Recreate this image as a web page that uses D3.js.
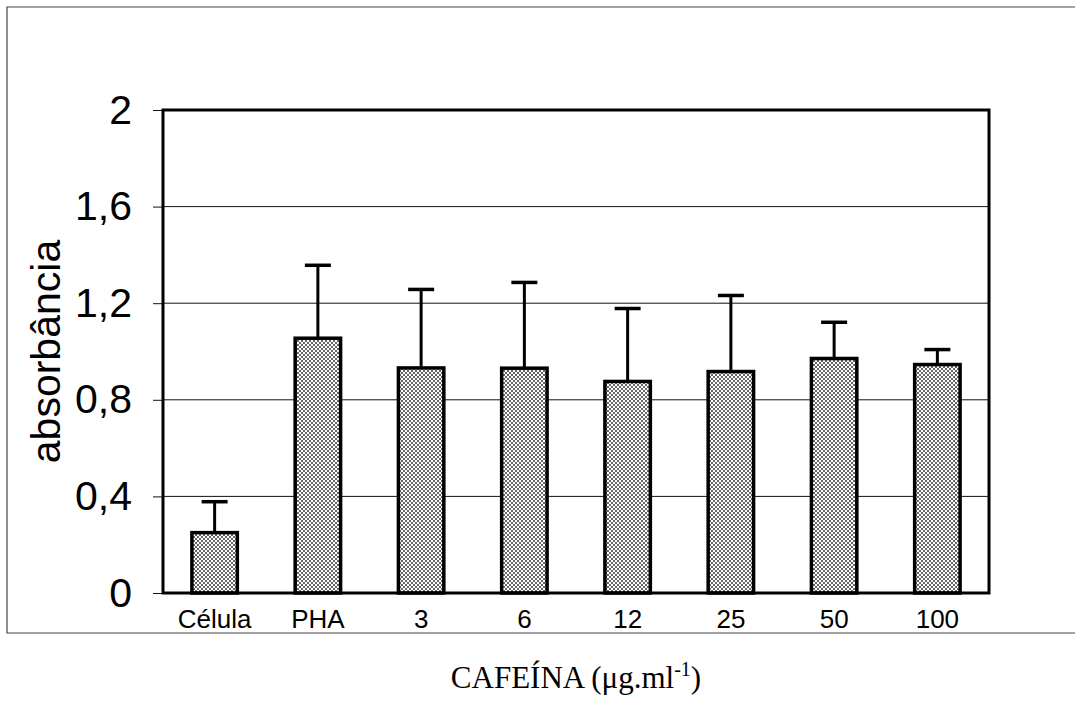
<!DOCTYPE html>
<html>
<head>
<meta charset="utf-8">
<script src="https://cdn.jsdelivr.net/npm/d3@7"></script>
<style>
  body { margin: 0; background: #fff; }
</style>
</head>
<body>
<div id="chart"></div>
<script>
// Data
var categories = ["Célula", "PHA", "3", "6", "12", "25", "50", "100"];
var means = [0.25, 1.055, 0.932, 0.931, 0.876, 0.917, 0.971, 0.946];
var errors = [0.128, 0.302, 0.325, 0.355, 0.302, 0.315, 0.15, 0.062];
var yTicks = [0, 0.4, 0.8, 1.2, 1.6, 2];
var yTickLabels = ["0", "0,4", "0,8", "1,2", "1,6", "2"];

// svg size and plot margins
var svgWidth = 1075;
var svgHeight = 707;
var margin = { top: 110, right: 86, bottom: 114, left: 163 };
var chartW = svgWidth - margin.left - margin.right;
var chartH = svgHeight - margin.top - margin.bottom;

var svg = d3.select("#chart")
  .append("svg")
  .attr("width", svgWidth)
  .attr("height", svgHeight);

// stipple fill for the bars
var pat = svg.append("defs").append("pattern")
  .attr("id", "stipple")
  .attr("patternUnits", "userSpaceOnUse")
  .attr("width", 4)
  .attr("height", 4);
pat.append("rect").attr("width", 4).attr("height", 4).attr("fill", "#fff");
pat.append("rect").attr("x", 0).attr("y", 0).attr("width", 2).attr("height", 2).attr("fill", "#666");
pat.append("rect").attr("x", 2).attr("y", 2).attr("width", 2).attr("height", 2).attr("fill", "#666");

// outer frame of the scanned figure (right side runs off the page)
svg.append("path")
  .attr("d", "M1080,7 H7 V633 H1080")
  .attr("fill", "none")
  .attr("stroke", "#444")
  .attr("stroke-width", 1.2);

var chartGrp = svg.append("g")
  .attr("transform", `translate(${margin.left}, ${margin.top})`);

// scales
var xScale = d3.scaleBand()
  .domain(categories)
  .range([0, chartW])
  .paddingInner(0.56)
  .paddingOuter(0.28);

var yScale = d3.scaleLinear()
  .domain([0, 2])
  .range([chartH, 0]);

// gridlines
chartGrp.selectAll(".grid")
  .data(yTicks.slice(1, -1))
  .enter()
  .append("line")
  .attr("x1", 0)
  .attr("x2", chartW)
  .attr("y1", d => yScale(d))
  .attr("y2", d => yScale(d))
  .attr("stroke", "#111")
  .attr("stroke-width", 1);

// y axis
var leftAxis = d3.axisLeft(yScale)
  .tickValues(yTicks)
  .tickFormat((d, i) => yTickLabels[i])
  .tickSize(10)
  .tickPadding(21);

var yAxisGrp = chartGrp.append("g").call(leftAxis);
yAxisGrp.select(".domain").remove();
yAxisGrp.selectAll("text")
  .attr("font-family", "'Liberation Sans', Arial, sans-serif")
  .attr("font-size", "41px")
  .attr("fill", "#000");
yAxisGrp.selectAll("line").attr("stroke", "#111");

// x axis
var bottomAxis = d3.axisBottom(xScale)
  .tickSize(0)
  .tickPadding(17);

var xAxisGrp = chartGrp.append("g")
  .attr("transform", `translate(0, ${chartH})`)
  .call(bottomAxis);
xAxisGrp.select(".domain").remove();
xAxisGrp.selectAll("text")
  .attr("font-family", "'Liberation Sans', Arial, sans-serif")
  .attr("font-size", "26px")
  .attr("fill", "#000");

// error bars (upper only)
var errGrp = chartGrp.append("g");
categories.forEach(function(c, i) {
  var cx = xScale(c) + xScale.bandwidth() / 2;
  errGrp.append("line")
    .attr("x1", cx).attr("x2", cx)
    .attr("y1", yScale(means[i]))
    .attr("y2", yScale(means[i] + errors[i]))
    .attr("stroke", "#000")
    .attr("stroke-width", 3);
  errGrp.append("line")
    .attr("x1", cx - 13).attr("x2", cx + 13)
    .attr("y1", yScale(means[i] + errors[i]))
    .attr("y2", yScale(means[i] + errors[i]))
    .attr("stroke", "#000")
    .attr("stroke-width", 3.5);
});

// bars
chartGrp.selectAll(".bar")
  .data(categories)
  .enter()
  .append("rect")
  .attr("x", d => xScale(d))
  .attr("y", (d, i) => yScale(means[i]))
  .attr("width", xScale.bandwidth())
  .attr("height", (d, i) => chartH - yScale(means[i]))
  .attr("fill", "url(#stipple)")
  .attr("stroke", "#000")
  .attr("stroke-width", 3.5);

// plot frame
chartGrp.append("rect")
  .attr("width", chartW)
  .attr("height", chartH)
  .attr("fill", "none")
  .attr("stroke", "#000")
  .attr("stroke-width", 3);

// y-axis label
svg.append("text")
  .attr("transform", `translate(60, ${margin.top + chartH / 2}) rotate(-90)`)
  .attr("text-anchor", "middle")
  .attr("font-family", "'Liberation Sans', Arial, sans-serif")
  .attr("font-size", "41px")
  .attr("fill", "#000")
  .text("absorbância");

// x-axis label
var xTitle = svg.append("text")
  .attr("x", margin.left + chartW / 2)
  .attr("y", 688)
  .attr("text-anchor", "middle")
  .attr("font-family", "'Liberation Serif', 'Times New Roman', serif")
  .attr("font-size", "31px")
  .attr("fill", "#000");
xTitle.append("tspan").text("CAFEÍNA (μg.ml");
xTitle.append("tspan").attr("dy", -12).attr("font-size", "20px").text("-1");
xTitle.append("tspan").attr("dy", 12).text(")");
</script>
</body>
</html>
